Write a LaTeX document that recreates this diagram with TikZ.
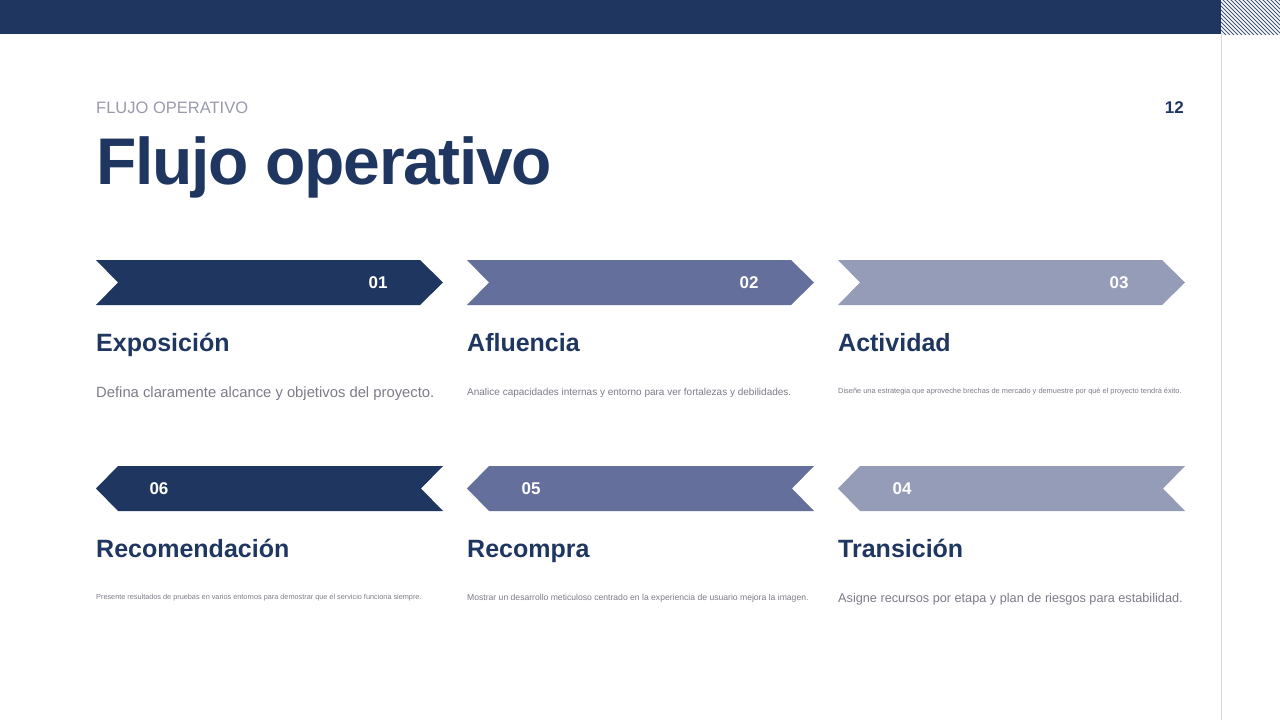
\documentclass[tikz,border=0pt]{standalone}
\usepackage{fontspec}
\setmainfont{Liberation Sans}
\newfontfamily\titlefont[LetterSpace=-2]{Liberation Sans}
\definecolor{navy}{HTML}{1F3760}
\definecolor{midblue}{HTML}{646F9B}
\definecolor{lightblue}{HTML}{959CB8}
\definecolor{kickergray}{HTML}{9A9AAE}
\definecolor{bodygray}{HTML}{7C7C88}
\definecolor{rulegray}{HTML}{D3D5DB}
\tikzset{
  kicker/.style={anchor=base west, inner sep=0pt, text=kickergray, font=\fontsize{16.5}{18}\selectfont},
  pagenum/.style={anchor=base east, inner sep=0pt, text=navy, font=\fontsize{17}{19}\selectfont\bfseries},
  bigtitle/.style={anchor=base west, inner sep=0pt, text=navy, font=\titlefont\fontsize{66}{74}\selectfont\bfseries},
  heading/.style={anchor=base west, inner sep=0pt, text=navy, font=\fontsize{25}{28}\selectfont\bfseries},
  numlabel/.style={anchor=center, inner sep=0pt, text=white, font=\fontsize{17}{19}\selectfont\bfseries},
  desc/.style={anchor=base west, inner sep=0pt, text=bodygray},
}
\begin{document}
\begin{tikzpicture}[x=1pt,y=-1pt]
\useasboundingbox (0,0) rectangle (1280,720);
\fill[white] (0,0) rectangle (1280,720);
% top bar
\fill[navy] (0,0) rectangle (1221,34);
\begin{scope}
  \clip (1221,0) rectangle (1280,34);
  \fill[white] (1221,0) rectangle (1280,34);
  \foreach \i in {-44,-40,...,64} \draw[navy!85,line width=1.0pt] (1221+\i,-2) -- (1221+\i+40,38);
\end{scope}
\draw[rulegray,line width=1.5pt] (1221.5,34) -- (1221.5,720);
% header
\node[kicker] (kick) at (96,113) {FLUJO OPERATIVO};
\node[pagenum] (pnum) at (1184,113) {12};
\node[bigtitle] (title) at (96,184) {Flujo operativo};
% row 1 chevrons (pointing right)
\foreach \x/\c in {96/navy,467/midblue,838/lightblue}
  \fill[\c] (\x,260) -- (\x+324,260) -- (\x+347,282.5) -- (\x+324,305) -- (\x,305) -- (\x+22,282.5) -- cycle;
% row 2 chevrons (pointing left)
\foreach \x/\c in {96/navy,467/midblue,838/lightblue}
  \fill[\c] (\x+22,466) -- (\x+347,466) -- (\x+325,488.5) -- (\x+347,511) -- (\x+22,511) -- (\x,488.5) -- cycle;
% numbers
\node[numlabel] (n1) at (378,282.5) {01};
\node[numlabel] (n2) at (749,282.5) {02};
\node[numlabel] (n3) at (1119,282.5) {03};
\node[numlabel] (n6) at (159,488.5) {06};
\node[numlabel] (n5) at (531,488.5) {05};
\node[numlabel] (n4) at (902,488.5) {04};
% headings
\node[heading] (h1) at (96,351) {Exposición};
\node[heading] (h2) at (467,351) {Afluencia};
\node[heading] (h3) at (838,351) {Actividad};
\node[heading] (h6) at (96,557) {Recomendación};
\node[heading] (h5) at (467,557) {Recompra};
\node[heading] (h4) at (838,557) {Transición};
% descriptions
\node[desc,font=\fontsize{14.8}{17}\selectfont] (d1) at (96,397) {Defina claramente alcance y objetivos del proyecto.};
\node[desc,font=\fontsize{10}{12}\selectfont] (d2) at (467,395) {Analice capacidades internas y entorno para ver fortalezas y debilidades.};
\node[desc,font=\fontsize{7.4}{9}\selectfont] (d3) at (838,393.5) {Diseñe una estrategia que aproveche brechas de mercado y demuestre por qué el proyecto tendrá éxito.};
\node[desc,font=\fontsize{7.3}{9}\selectfont] (d6) at (96,599.5) {Presente resultados de pruebas en varios entornos para demostrar que el servicio funciona siempre.};
\node[desc,font=\fontsize{8.6}{11}\selectfont] (d5) at (467,600.5) {Mostrar un desarrollo meticuloso centrado en la experiencia de usuario mejora la imagen.};
\node[desc,font=\fontsize{12.7}{15}\selectfont] (d4) at (838,602) {Asigne recursos por etapa y plan de riesgos para estabilidad.};
\end{tikzpicture}
\end{document}
